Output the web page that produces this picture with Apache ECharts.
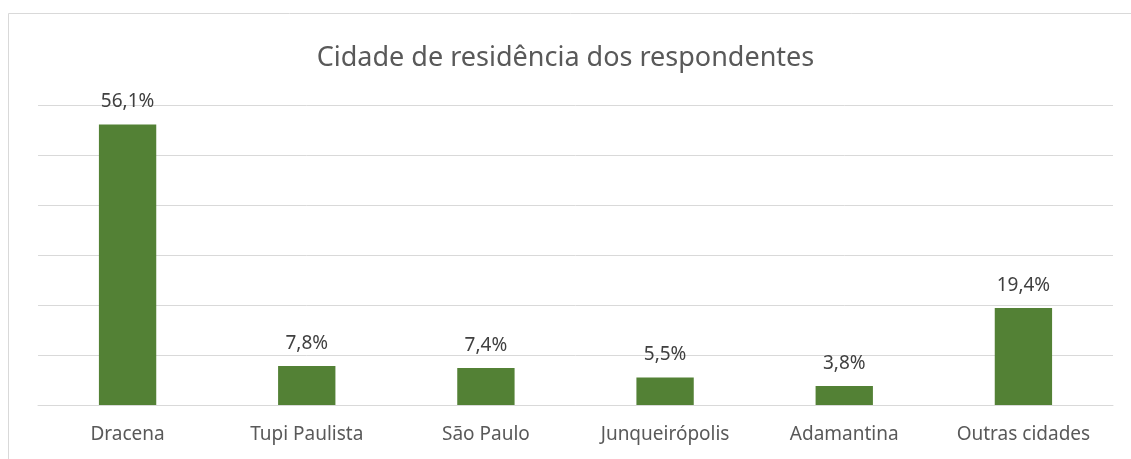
<!DOCTYPE html>
<html>
<head>
<meta charset="utf-8">
<script src="https://cdn.jsdelivr.net/npm/echarts@6/dist/echarts.min.js"></script>
<style>
  html, body { margin: 0; padding: 0; background: #fff; }
  #main { width: 1131px; height: 459px; }
</style>
</head>
<body>
<div id="main"></div>
<script>
// dados do gráfico
const cidades = ['Dracena', 'Tupi Paulista', 'São Paulo', 'Junqueirópolis', 'Adamantina', 'Outras cidades'];
const percentuais = [56.1, 7.8, 7.4, 5.5, 3.8, 19.4];
const titulo = 'Cidade de residência dos respondentes';

const fonte = '"Noto Sans", "Open Sans", sans-serif';
const chart = echarts.init(document.getElementById('main'));

chart.setOption({
  animation: false,
  backgroundColor: '#fff',
  title: {
    text: titulo,
    left: 'center',
    top: 40,
    textStyle: { fontFamily: fonte, fontSize: 27, fontWeight: 'normal', color: '#595959' }
  },
  graphic: [{
    type: 'rect',
    shape: { x: 8.5, y: 13.5, width: 1200, height: 600 },
    style: { fill: 'none', stroke: '#d9d9d9', lineWidth: 1 },
    silent: true
  }],
  grid: { left: 38, right: 18, top: 105, bottom: 54, containLabel: false },
  xAxis: {
    type: 'category',
    data: cidades,
    axisTick: { show: false },
    axisLine: { show: true, lineStyle: { color: '#d9d9d9', width: 1 } },
    axisLabel: { fontFamily: fonte, fontSize: 19, color: '#595959', margin: 20 }
  },
  yAxis: {
    type: 'value',
    min: 0,
    max: 60,
    interval: 10,
    axisLabel: { show: false },
    axisLine: { show: false },
    axisTick: { show: false },
    splitLine: { lineStyle: { color: '#d9d9d9', width: 1 } }
  },
  series: [{
    type: 'bar',
    data: percentuais,
    barWidth: '32%',
    itemStyle: { color: '#538135' },
    label: {
      show: true,
      position: 'top',
      distance: 13,
      fontFamily: fonte,
      fontSize: 19,
      color: '#404040',
      formatter: p => p.value.toFixed(1).replace('.', ',') + '%'
    }
  }]
});
</script>
</body>
</html>
